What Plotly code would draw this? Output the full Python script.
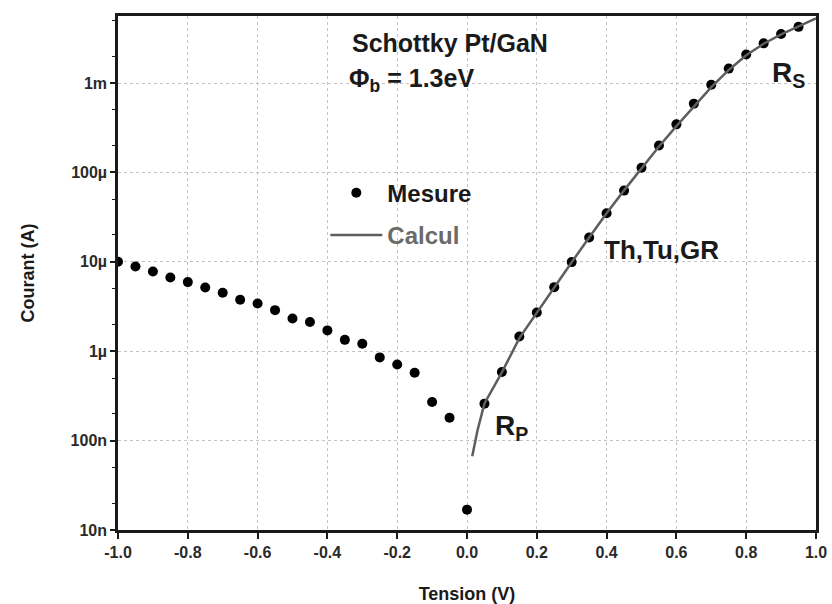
import plotly.graph_objects as go

# Measured I-V (Mesure)
v_mes = [-1.00, -0.95, -0.90, -0.85, -0.80, -0.75, -0.70, -0.65, -0.60, -0.55,
         -0.50, -0.45, -0.40, -0.35, -0.30, -0.25, -0.20, -0.15, -0.10, -0.05,
         0.00,
         0.05, 0.10, 0.15, 0.20, 0.25, 0.30, 0.35, 0.40, 0.45, 0.50,
         0.55, 0.60, 0.65, 0.70, 0.75, 0.80, 0.85, 0.90, 0.95]
i_mes = [1.0e-5, 8.85e-6, 7.8e-6, 6.68e-6, 5.93e-6, 5.16e-6, 4.51e-6, 3.76e-6, 3.42e-6, 2.88e-6,
         2.32e-6, 2.12e-6, 1.71e-6, 1.34e-6, 1.21e-6, 8.53e-7, 7.11e-7, 5.75e-7, 2.70e-7, 1.80e-7,
         1.69e-8,
         2.59e-7, 5.86e-7, 1.46e-6, 2.71e-6, 5.21e-6, 9.93e-6, 1.87e-5, 3.50e-5, 6.26e-5, 1.13e-4,
         2.0e-4, 3.45e-4, 5.88e-4, 9.57e-4, 1.45e-3, 2.09e-3, 2.78e-3, 3.53e-3, 4.25e-3]

# Calculated curve (Calcul)
v_calc = [0.015, 0.03, 0.05, 0.10, 0.15, 0.20, 0.25, 0.30, 0.35, 0.40, 0.45,
          0.50, 0.55, 0.60, 0.65, 0.70, 0.75, 0.80, 0.85, 0.90, 0.95, 1.00]
i_calc = [6.7e-8, 1.3e-7, 2.6e-7, 5.8e-7, 1.4e-6, 2.7e-6, 5.2e-6, 9.9e-6, 1.87e-5, 3.5e-5, 6.3e-5,
          1.12e-4, 1.95e-4, 3.3e-4, 5.5e-4, 9.0e-4, 1.4e-3, 2.05e-3, 2.75e-3, 3.5e-3, 4.3e-3, 5.3e-3]

x_tickvals = [-1.0, -0.8, -0.6, -0.4, -0.2, 0.0, 0.2, 0.4, 0.6, 0.8, 1.0]
x_ticktext = ["-1.0", "-0.8", "-0.6", "-0.4", "-0.2", "0.0", "0.2", "0.4", "0.6", "0.8", "1.0"]
y_tickvals = [1e-8, 1e-7, 1e-6, 1e-5, 1e-4, 1e-3]
y_ticktext = ["10n", "100n", "1µ", "10µ", "100µ", "1m"]

FONT = "Liberation Sans, Arial, sans-serif"

fig = go.Figure()
fig.add_trace(go.Scatter(
    x=v_mes, y=i_mes, mode="markers", name="Mesure",
    marker=dict(color="black", size=10), legendgroup="a"))
fig.add_trace(go.Scatter(
    x=v_calc, y=i_calc, mode="lines", name="<span style='color:#6a6a6a'>Calcul</span>",
    line=dict(color="#5e5e5e", width=2.5), legendgroup="b"))

fig.update_layout(
    width=832, height=604,
    margin=dict(l=118, r=16, t=16, b=74),
    paper_bgcolor="white", plot_bgcolor="white",
    font=dict(family=FONT, color="#1a1a1a"),
    showlegend=True,
    legend=dict(x=0.297, y=0.699, xanchor="left", yanchor="top",
                bgcolor="rgba(0,0,0,0)", itemwidth=52, traceorder="grouped",
                tracegroupgap=8,
                font=dict(family=FONT, size=24, weight="bold", color="#1a1a1a")),
    xaxis=dict(range=[-1, 1], tickvals=x_tickvals, ticktext=x_ticktext,
               automargin=False,
               showline=True, linecolor="#1a1a1a", linewidth=2.5, mirror=True,
               ticks="outside", ticklen=6, tickwidth=1.5, tickcolor="#1a1a1a",
               showgrid=True, gridcolor="#c4c4c4", griddash="dot", gridwidth=1,
               zeroline=False,
               tickfont=dict(family=FONT, size=16, weight="bold", color="#2a2a2a"),
               title=dict(text="Tension (V)", standoff=28,
                          font=dict(family=FONT, size=18, weight="bold", color="#1a1a1a"))),
    yaxis=dict(type="log", range=[-8, -2.25], tickvals=y_tickvals, ticktext=y_ticktext,
               automargin=False,
               showline=True, linecolor="#1a1a1a", linewidth=2.5, mirror=True,
               ticks="outside", ticklen=5, tickwidth=1.5, tickcolor="#1a1a1a",
               minor=dict(ticks="outside", ticklen=3, tickwidth=1, tickcolor="#1a1a1a",
                          showgrid=False),
               showgrid=True, gridcolor="#c4c4c4", griddash="dot", gridwidth=1,
               zeroline=False,
               tickfont=dict(family=FONT, size=16, weight="bold", color="#2a2a2a"),
               title=dict(text="Courant (A)", standoff=32,
                          font=dict(family=FONT, size=18, weight="bold", color="#1a1a1a"))),
)

ann_font = dict(family=FONT, size=25, weight="bold", color="#1a1a1a")
fig.add_annotation(x=-0.335, y=-2.553, xref="x", yref="y", text="Schottky Pt/GaN",
                   showarrow=False, xanchor="left", yanchor="middle", font=ann_font)
fig.add_annotation(x=-0.344, y=-2.967, xref="x", yref="y", text="Φ<sub>b</sub> = 1.3eV",
                   showarrow=False, xanchor="left", yanchor="middle", font=ann_font)
fig.add_annotation(x=0.387, y=-4.866, xref="x", yref="y", text="Th,Tu,GR",
                   showarrow=False, xanchor="left", yanchor="middle",
                   font=dict(family=FONT, size=26, weight="bold", color="#1a1a1a"))
fig.add_annotation(x=0.868, y=-2.899, xref="x", yref="y", text="R<sub>S</sub>",
                   showarrow=False, xanchor="left", yanchor="middle",
                   font=dict(family=FONT, size=28, weight="bold", color="#1a1a1a"))
fig.add_annotation(x=0.0745, y=-6.855, xref="x", yref="y", text="R<sub>P</sub>",
                   showarrow=False, xanchor="left", yanchor="middle",
                   font=dict(family=FONT, size=28, weight="bold", color="#1a1a1a"))

fig.write_html("out.html")
